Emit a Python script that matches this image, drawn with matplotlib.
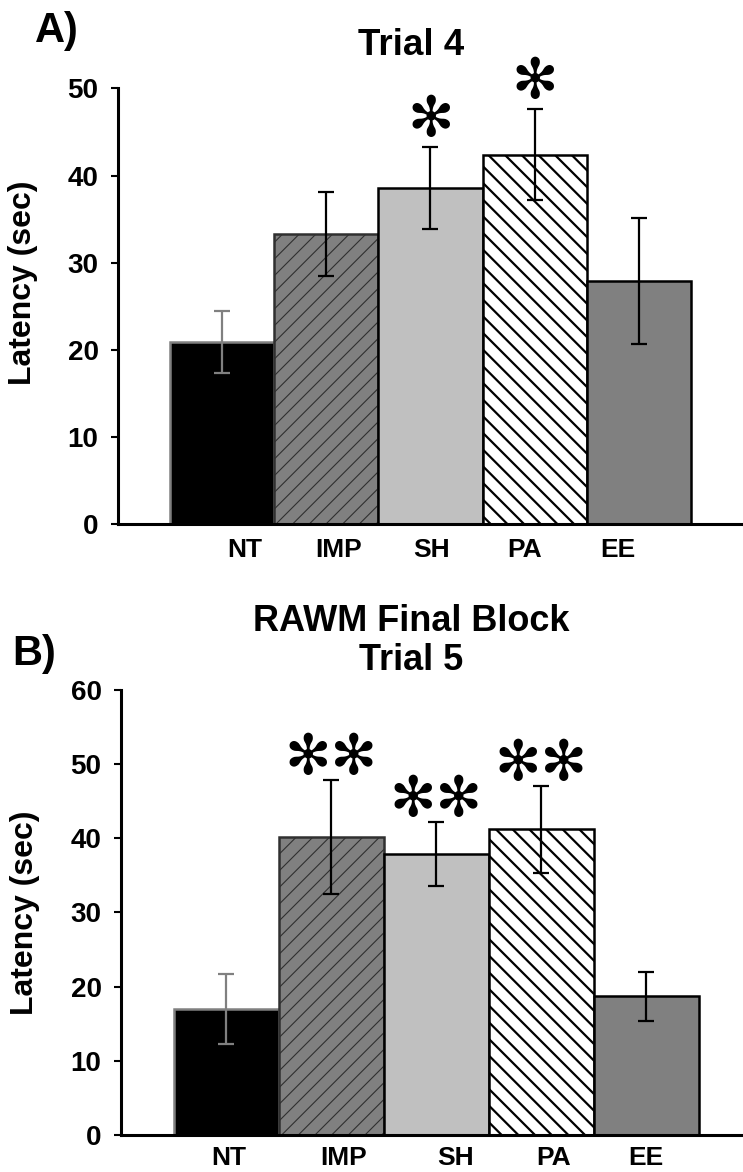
import matplotlib
matplotlib.use('agg')

import matplotlib.pyplot as plt
import numpy as np

# data
groups = ['NT', 'IMP', 'SH', 'PA', 'EE']

trial4_mean = [20.9, 33.3, 38.6, 42.4, 27.9]
trial4_err = [3.6, 4.8, 4.7, 5.2, 7.2]
trial4_stars = ['', '', '\u273B', '\u273B', '']

trial5_mean = [17.0, 40.2, 37.9, 41.2, 18.7]
trial5_err = [4.7, 7.7, 4.3, 5.9, 3.3]
trial5_stars = ['', '\u273B\u273B', '\u273B\u273B', '\u273B\u273B', '']

plt.rcParams['font.family'] = ['Liberation Sans', 'DejaVu Sans']
plt.rcParams['font.weight'] = 'bold'

face = ['black', '#808080', '#c0c0c0', 'white', '#808080']
edge = ['#808080', '#303030', 'black', 'black', 'black']
hatch = [None, '//', None, '\\\\', None]
hatch_lw = [1.0, 0.8, 1.0, 1.6, 1.0]
err_col = ['#808080', 'black', 'black', 'black', 'black']


def draw_panel(ax, means, errs, stars, ymax, ystep, label_pos, star_pad):
    x = np.arange(len(groups))
    for i in x:
        b = ax.bar(i, means[i], width=1.0, color=face[i], edgecolor=edge[i],
                   linewidth=1.8, hatch=hatch[i], zorder=2)
        try:
            b.patches[0].set_hatch_linewidth(hatch_lw[i])
        except AttributeError:
            pass
        ax.errorbar(i, means[i], yerr=errs[i], fmt='none', ecolor=err_col[i],
                    elinewidth=1.6, capsize=5.5, capthick=1.6, zorder=3)
        if stars[i]:
            ax.text(i, means[i] + errs[i] + star_pad, stars[i], ha='center',
                    va='center', fontsize=40, family='DejaVu Sans',
                    clip_on=False, zorder=4)

    ax.set_xlim(-1.0, 5.0)
    ax.set_ylim(0, ymax)
    ax.set_yticks(np.arange(0, ymax + 1, ystep))
    ax.set_xticks(label_pos)
    ax.set_xticklabels(groups)
    ax.tick_params(axis='x', length=0, pad=10, labelsize=19)
    ax.tick_params(axis='y', length=5, width=1.5, pad=9, labelsize=20)
    for s in ['top', 'right']:
        ax.spines[s].set_visible(False)
    for s in ['left', 'bottom']:
        ax.spines[s].set_linewidth(2.2)
    ax.set_ylabel('Latency (sec)', fontsize=23, fontweight='bold')


fig = plt.figure(figsize=(7.43, 11.72), dpi=100)

ax1 = fig.add_axes([0.1588, 0.5529, 0.8412, 0.3716])
draw_panel(ax1, trial4_mean, trial4_err, trial4_stars, 50, 10,
           np.linspace(0.22, 3.8, 5), 3.0)
ax1.yaxis.set_label_coords(-0.128, 0.553)

ax2 = fig.add_axes([0.1629, 0.0316, 0.8371, 0.3797])
draw_panel(ax2, trial5_mean, trial5_err, trial5_stars, 60, 10,
           [0.03, 1.12, 2.18, 3.12, 4.0], 2.8)
ax2.set_xlim(-1.0, 4.92)
ax2.tick_params(axis='x', pad=8)
ax2.yaxis.set_label_coords(-0.130, 0.50)

fig.text(0.553, 0.9531, 'Trial 4', ha='center', va='baseline',
         fontsize=26.5, fontweight='bold')
fig.text(0.553, 0.4283, 'RAWM Final Block\nTrial 5', ha='center',
         va='baseline', fontsize=26, fontweight='bold', linespacing=1.15)
fig.text(0.047, 0.9642, 'A)', ha='left', va='baseline', fontsize=30,
         fontweight='bold')
fig.text(0.016, 0.4326, 'B)', ha='left', va='baseline', fontsize=30,
         fontweight='bold')

fig.savefig('out.png', dpi=100)
